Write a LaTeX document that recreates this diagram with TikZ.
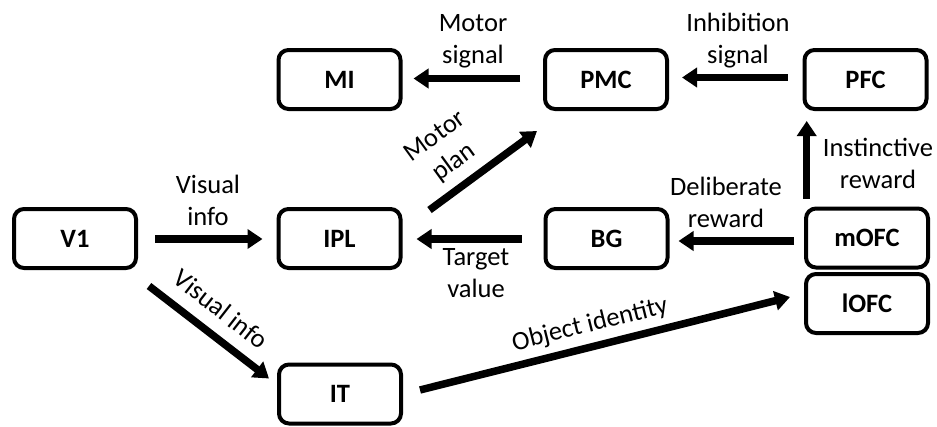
\documentclass[tikz,border=0pt]{standalone}
\usepackage{fontspec}
\setmainfont{Carlito}
\usetikzlibrary{arrows.meta}
\begin{document}
\begin{tikzpicture}[x=1pt,y=-1pt,
  region/.style={draw=black, line width=4pt, rounded corners=10pt, minimum width=122pt, minimum height=59pt, inner sep=0pt, font=\fontsize{26.5}{30}\selectfont\bfseries},
  flow/.style={line width=7.5pt, -{Triangle[length=15pt,width=19pt]}},
  lbl/.style={font=\fontsize{26.5}{32}\selectfont, align=center, inner sep=0pt}]
\fill[white] (0,0) rectangle (937,426);
\useasboundingbox (0,0) rectangle (937,426);
% regions
\node[region] (V1) at (75,238.5) {V1};
\node[region] (MI) at (339.5,79.5) {MI};
\node[region] (PMC) at (606,79.5) {PMC};
\node[region] (PFC) at (865.5,79.5) {PFC};
\node[region] (IPL) at (339.5,238.5) {IPL};
\node[region] (BG) at (606.5,238.5) {BG};
\node[region] (mOFC) at (867,238) {mOFC};
\node[region] (lOFC) at (867,303.5) {lOFC};
\node[region] (IT) at (340,394) {IT};
% connectors
\draw[flow] ([xshift=17pt,yshift=-0.5pt]V1.east) -- ([xshift=-14pt,yshift=-0.5pt]IPL.west);
\draw[flow] ([xshift=-23pt,yshift=1pt]PMC.west) -- ([xshift=11pt,yshift=1pt]MI.east);
\draw[flow] ([xshift=-15pt,yshift=2pt]PFC.west) -- ([xshift=13pt,yshift=2pt]PMC.east);
\draw[flow] ([xshift=-60.3pt,yshift=8pt]mOFC.north) -- ([xshift=-58.8pt,yshift=-10pt]PFC.south);
\draw[flow] ([xshift=-10pt,yshift=-3pt]mOFC.west) -- ([xshift=9pt,yshift=-2.5pt]BG.east);
\draw[flow] ([xshift=-22pt,yshift=-0.5pt]BG.west) -- ([xshift=14pt,yshift=-0.5pt]IPL.east);
\draw[flow] ([xshift=27pt,yshift=-3pt]IPL.north east) -- ([xshift=-6pt,yshift=-20pt]PMC.south west);
\draw[flow] ([xshift=11pt,yshift=-16pt]V1.south east) -- ([xshift=-8pt,yshift=-16pt]IT.north west);
\draw[flow] ([xshift=17pt,yshift=4pt]IT.east) -- ([xshift=-14pt,yshift=6.5pt]lOFC.west);
% labels
\node[lbl] (l1) at (208,200.5) {Visual\\info};
\node[lbl] (l2) at (473,41.5) {Motor\\signal};
\node[lbl] (l3) at (738,41) {Inhibition\\signal};
\node[lbl] (l4) at (878,163) {Instinctive\\reward};
\node[lbl] (l5) at (726,202) {Deliberate\\reward};
\node[lbl] (l6) at (476,273.5) {Target\\value};
\node[lbl, rotate=36] (l7) at (445,150) {Motor\\plan};
\node[lbl, rotate=-38] (l8) at (221,309) {Visual info};
\node[lbl, rotate=14] (l9) at (590,325) {Object identity};
\end{tikzpicture}
\end{document}
